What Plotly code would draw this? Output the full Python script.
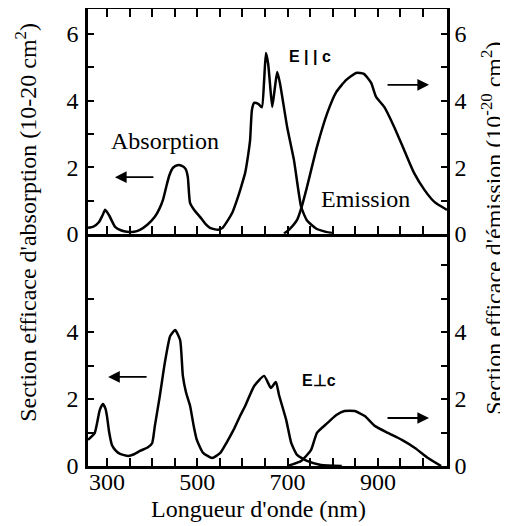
import plotly.graph_objects as go

# --- data (wavelength in nm, cross sections in 1e-20 cm2) ---
# E || c
abs_par_nm = [258, 270, 282, 290, 296, 305, 318, 332, 344, 360, 373, 390, 406, 416, 424, 432,
              438, 446, 456, 466, 474, 479, 484, 494, 506, 518, 528, 546, 556, 564, 578, 588,
              598, 606, 613, 617, 621, 626, 635, 643, 648, 652, 657, 661, 666, 672, 677, 683,
              699, 714, 730, 743, 763, 785, 800]
abs_par_val = [0.18, 0.22, 0.35, 0.55, 0.72, 0.55, 0.21, 0.10, 0.06, 0.06, 0.12, 0.28, 0.51, 0.75,
               1.02, 1.45, 1.75, 1.98, 2.06, 2.04, 1.95, 1.71, 0.93, 0.70, 0.51, 0.30, 0.18, 0.12,
               0.18, 0.33, 0.65, 1.02, 1.45, 1.83, 2.40, 2.82, 3.72, 3.93, 3.90, 3.80, 4.60, 5.43,
               5.10, 4.50, 3.81, 4.40, 4.86, 4.53, 3.21, 2.22, 0.81, 0.40, 0.16, 0.06, 0.02]
em_par_nm = [692, 705, 721, 732, 743, 765, 788, 808, 830, 852, 869, 885, 896, 914, 936, 958,
             980, 1003, 1025, 1053]
em_par_val = [0.0, 0.15, 0.42, 0.85, 1.41, 2.61, 3.63, 4.26, 4.62, 4.83, 4.80, 4.53, 4.11, 3.81,
              3.21, 2.52, 1.83, 1.32, 0.96, 0.72]

# E perpendicular to c
abs_perp_nm = [258, 273, 284, 291, 297, 300, 305, 311, 320, 329, 347, 360, 373, 390, 400, 406,
               417, 428, 440, 451, 462, 468, 475, 484, 492, 499, 513, 533, 551, 565, 580, 595,
               606, 626, 648, 663, 674, 681, 697, 708, 721, 743, 774, 820]
abs_perp_val = [0.78, 0.99, 1.67, 1.85, 1.70, 1.49, 1.00, 0.63, 0.45, 0.36, 0.30, 0.35, 0.45, 0.55,
                0.68, 1.19, 2.09, 3.07, 3.88, 4.06, 3.76, 2.70, 2.20, 1.80, 1.20, 0.78, 0.39, 0.24,
                0.39, 0.70, 1.07, 1.50, 1.79, 2.39, 2.69, 2.33, 2.51, 2.12, 1.37, 0.69, 0.33, 0.15,
                0.03, 0.0]
em_perp_nm = [699, 730, 752, 765, 788, 808, 826, 849, 871, 894, 922, 953, 982, 1011, 1040]
em_perp_val = [0.0, 0.15, 0.48, 0.99, 1.28, 1.52, 1.64, 1.64, 1.49, 1.19, 0.99, 0.78, 0.54, 0.24, 0.0]

x_tickvals = [300, 350, 400, 450, 500, 550, 600, 650, 700, 750, 800, 850, 900, 950, 1000]
x_ticktext = ["300", "", "", "", "500", "", "", "", "700", "", "", "", "900", "", ""]
y_tickvals = [0, 1, 2, 3, 4, 5, 6]
y_ticktext = ["0", "", "2", "", "4", "", "6"]
y_low_tickvals = [0, 1, 2, 3, 4, 5]
y_low_ticktext = ["0", "", "2", "", "4", ""]
y_low_right_ticktext = ["0", "", "2", "", "4", "", ""]

SERIF = "Liberation Serif"
line = dict(color="black", width=2.5, shape="spline", smoothing=0.5)

fig = go.Figure()
fig.add_trace(go.Scatter(x=abs_par_nm, y=abs_par_val, xaxis="x", yaxis="y", mode="lines", line=line))
fig.add_trace(go.Scatter(x=em_par_nm, y=em_par_val, xaxis="x", yaxis="y2", mode="lines", line=line))
fig.add_trace(go.Scatter(x=abs_perp_nm, y=abs_perp_val, xaxis="x2", yaxis="y3", mode="lines", line=line))
fig.add_trace(go.Scatter(x=em_perp_nm, y=em_perp_val, xaxis="x2", yaxis="y4", mode="lines", line=line))

xticks = dict(range=[258, 1053], ticks="inside", ticklen=8, tickwidth=1.5, tickcolor="black",
              automargin=False, tickvals=x_tickvals, showgrid=False, zeroline=False)
ycommon = dict(showline=True, linecolor="black", linewidth=2.5, ticks="inside", ticklen=6,
               tickwidth=1.5, tickcolor="black", showgrid=False, zeroline=False, automargin=False,
               tickfont=dict(family=SERIF, size=24, color="black"))

# page body adds an 8px offset, so the figure is 8px smaller than the window
fig.update_layout(
    width=500, height=518,
    margin=dict(l=80, r=61, t=1, b=60),
    paper_bgcolor="white", plot_bgcolor="white",
    showlegend=False,
    # upper panel: frame top + shared middle line
    xaxis=dict(**xticks, anchor="y", showticklabels=False, showline=True, linecolor="black",
               linewidth=2.5, mirror="ticks"),
    # lower panel bottom axis
    xaxis2=dict(**xticks, anchor="y3", matches="x", showline=True, linecolor="black", linewidth=2.5,
                ticktext=x_ticktext, ticklabelstandoff=-8,
                tickfont=dict(family=SERIF, size=24, color="black")),
    # downward ticks on the middle line (no extra line, so it stays thin)
    xaxis3=dict(**xticks, anchor="y3", overlaying="x2", side="top", matches="x",
                showline=False, showticklabels=False),
    yaxis=dict(**ycommon, domain=[0.508, 1], range=[0, 6.75], anchor="x",
               tickvals=y_tickvals, ticktext=y_ticktext, ticklabelstandoff=2),
    yaxis2=dict(**ycommon, overlaying="y", side="right", range=[0, 6.75], anchor="x",
                tickvals=y_tickvals, ticktext=y_ticktext),
    yaxis3=dict(**ycommon, domain=[0, 0.508], range=[0, 6.93], anchor="x2",
                tickvals=y_low_tickvals, ticktext=y_low_ticktext, ticklabelstandoff=2),
    yaxis4=dict(**ycommon, overlaying="y3", side="right", range=[0, 6.93], anchor="x2",
                tickvals=y_tickvals, ticktext=y_low_right_ticktext),
)

txt = dict(family=SERIF, size=24, color="black")
bold = dict(family="Liberation Sans", size=16, color="black")

annotations = [
    dict(x=-0.173, y=0.534, text="Section efficace d'absorption (10-20 cm<sup>2</sup>)", textangle=-90, font=txt),
    dict(x=1.125, y=0.521, text="Section efficace d'émission (10<sup>-20</sup> cm<sup>2</sup>)", textangle=-90,
         font=txt),
    dict(x=0.476, y=-0.095, text="Longueur d'onde (nm)", font=txt),
    dict(x=0.215, y=0.711, text="Absorption", font=txt),
    dict(x=0.772, y=0.584, text="Emission", font=txt),
    dict(x=0.618, y=0.897, text="<b>E | | c</b>", font=bold),
    dict(x=0.643, y=0.188, text="<b>E⊥c</b>", font=bold),
]
for a in annotations:
    fig.add_annotation(xref="paper", yref="paper", showarrow=False,
                       xanchor="center", yanchor="middle", **a)

# arrows pointing at the axis each curve belongs to
arrows = [(0.075, 0.632, 40), (0.950, 0.834, -43), (0.056, 0.195, 40), (0.950, 0.105, -43)]
for ax_x, ax_y, off in arrows:
    fig.add_annotation(xref="paper", yref="paper", x=ax_x, y=ax_y, ax=off, ay=0, text="",
                       showarrow=True, arrowhead=2, arrowsize=1.3, arrowwidth=1.8, arrowcolor="black")

fig.write_html("out.html")
